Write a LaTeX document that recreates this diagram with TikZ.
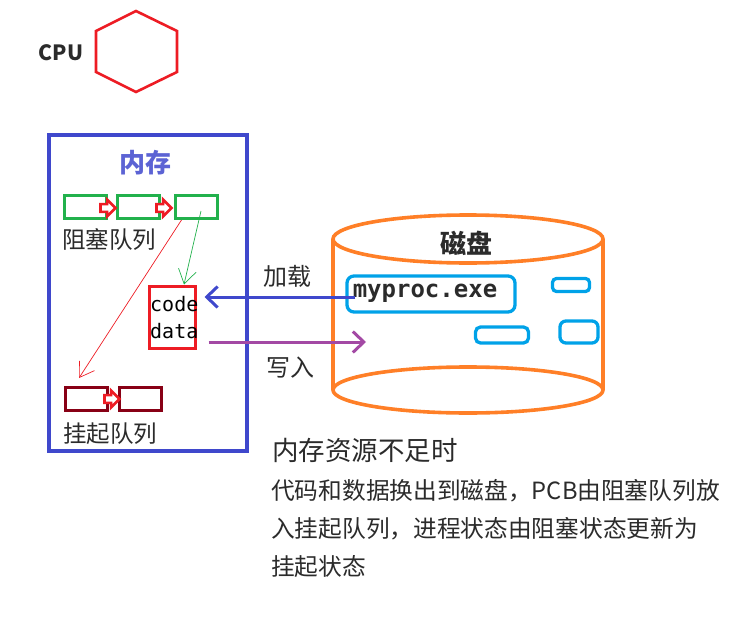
\documentclass[tikz,border=0pt]{standalone}
\usepackage{fontspec}
\setmainfont{Noto Sans CJK SC}
\newfontfamily\codefont{DejaVu Sans Mono}
\usepackage{tikz}
\usetikzlibrary{arrows.meta,shapes.arrows}
\definecolor{PaintRed}{HTML}{ED1C24}
\definecolor{PaintBlue}{HTML}{3F48CC}
\definecolor{PaintGreen}{HTML}{22B14C}
\definecolor{PaintMaroon}{HTML}{880015}
\definecolor{PaintOrange}{HTML}{FF7F27}
\definecolor{PaintCyan}{HTML}{00A2E8}
\definecolor{PaintPurple}{HTML}{A349A4}
\definecolor{InkGray}{HTML}{2B2B2B}

\begin{document}
\begin{tikzpicture}[x=1pt,y=-1pt,
  lbl/.style={text=InkGray,inner sep=0pt,font=\fontsize{23.5}{26}\selectfont},
  pcb/.style={draw,line width=3pt,minimum width=42pt,minimum height=23pt,inner sep=0pt},
  nxt/.style={single arrow,draw=PaintRed,fill=white,line width=2.6pt,inner xsep=0pt,inner ysep=2.6pt,
              minimum height=15pt,single arrow head extend=4.5pt},
  file/.style={draw=PaintCyan,line width=3.3pt,rounded corners=7pt,inner sep=0pt},
  thin/.style={->,line width=0.7pt,>={Straight Barb[length=14pt,width=18pt]}},
  thick/.style={->,line width=3pt,>={Straight Barb[length=11pt,width=21pt]}},
]
\useasboundingbox (0,0) rectangle (745,629);

% CPU
\node[text=InkGray,font=\fontsize{21}{24}\selectfont\bfseries] (cpu) at (61,53) {CPU};
\draw[PaintRed,line width=2.6pt] (136,11) -- (177,31) -- (177,72) -- (136,92) -- (96,72) -- (96,31) -- cycle;

% memory
\node[draw=PaintBlue,line width=3.2pt,minimum width=198pt,minimum height=316pt] (mem) at (148,293) {};
\node[text=PaintBlue!85,font=\fontsize{26}{28}\selectfont\bfseries] (memTitle) at (145,163) {内存};

\node[pcb,draw=PaintGreen] (blk1) at (85,207) {};
\node[pcb,draw=PaintGreen] (blk2) at (138,207) {};
\node[pcb,draw=PaintGreen] (blk3) at (196,207) {};
\node[nxt] (n1) at (106,208) {};
\node[nxt] (n2) at (162,208) {};
\node[lbl,anchor=west] (blkLabel) at (62,240) {阻塞队列};

\node[draw=PaintRed,line width=3pt,minimum width=46pt,minimum height=62pt,inner sep=0pt] (img) at (172,317) {};
\node[inner sep=0pt,align=left,font=\fontsize{20}{27}\selectfont\codefont,anchor=west] (imgText) at (150,318) {code\\data};

\node[pcb,draw=PaintMaroon] (sus1) at (86,399) {};
\node[pcb,draw=PaintMaroon] (sus2) at (140,399) {};
\node[nxt] (n3) at (110,399) {};
\node[lbl,anchor=west] (susLabel) at (63,434) {挂起队列};

% disk
\draw[PaintOrange,line width=3.6pt] (468,239) ellipse [x radius=135,y radius=24];
\draw[PaintOrange,line width=3.6pt] (468,390) ellipse [x radius=135,y radius=23];
\draw[PaintOrange,line width=3.6pt] (333,239) -- (333,390) (603,239) -- (603,390);
\node[text=InkGray,font=\fontsize{26}{28}\selectfont\bfseries] (diskTitle) at (466,243) {磁盘};

\node[file,minimum width=168pt,minimum height=36pt] (exe) at (431,294) {};
\node[inner sep=0pt,font=\fontsize{24}{26}\selectfont\codefont\bfseries,text=InkGray] (exeText) at (425,293) {myproc.exe};
\node[file,rounded corners=4pt,minimum width=37pt,minimum height=13pt] (f1) at (571,285) {};
\node[file,rounded corners=5pt,minimum width=53pt,minimum height=16pt] (f2) at (502,335) {};
\node[file,rounded corners=6pt,minimum width=38pt,minimum height=22pt] (f3) at (579,332) {};

% swap arrows
\draw[thin,PaintGreen] ([shift={(5,4)}]blk3.center) -- ([xshift=12pt]img.north);
\draw[thin,PaintRed] ([xshift=8pt]blk3.south west) -- ([shift={(-7,-8)}]sus1.north);
\draw[thick,PaintBlue] ([shift={(10,3)}]exe.west) -- ([shift={(8,-20)}]img.east);
\coordinate (wr) at (366,342);
\draw[thick,PaintPurple] ([shift={(12,25)}]img.east) -- (wr);
\node[lbl,font=\fontsize{24}{26}\selectfont] (load) at (287,276) {加载};
\node[lbl,font=\fontsize{24}{26}\selectfont] (write) at (290,368) {写入};

% note
\node[lbl,anchor=west,font=\fontsize{26.5}{28}\selectfont] (noteTitle) at (272,450) {内存资源不足时};
\node[lbl,anchor=north west,align=left,font=\fontsize{23.7}{38}\selectfont] (noteBody) at (271,479)
  {代码和数据换出到磁盘，PCB由阻塞队列放\\入挂起队列，进程状态由阻塞状态更新为\\挂起状态};
\end{tikzpicture}
\end{document}
